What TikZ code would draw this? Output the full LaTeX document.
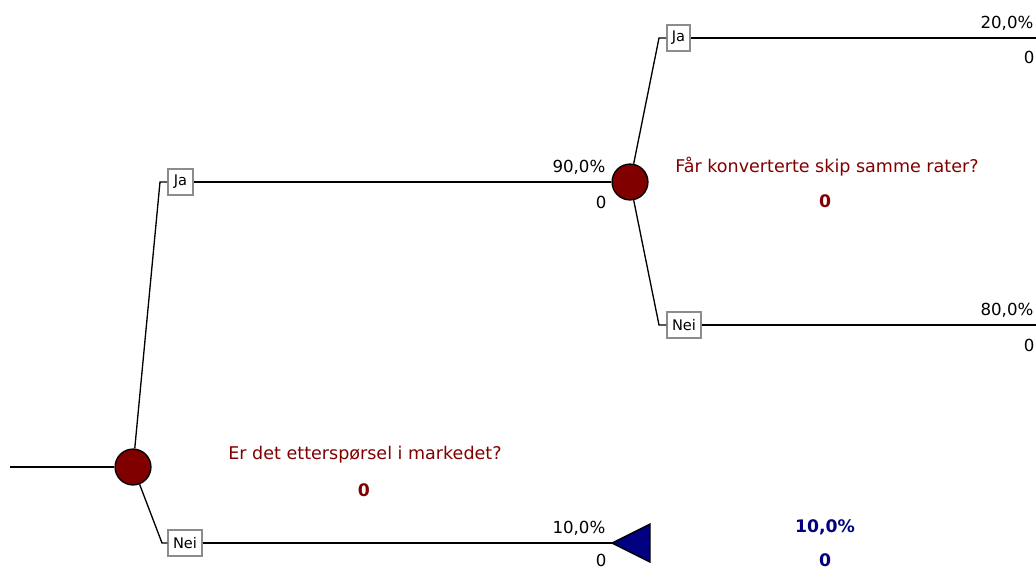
\documentclass[tikz,border=0pt]{standalone}
\usepackage{fontspec}
\setmainfont{DejaVu Sans}
\usepackage{tikz}

\definecolor{chancered}{RGB}{128,0,0}
\definecolor{endblue}{RGB}{0,0,128}

\tikzset{
  chance/.style={circle,draw=black,fill=chancered,minimum size=27pt,inner sep=0pt},
  branchbox/.style={draw=black!45,fill=white,inner sep=0pt,minimum height=19.5pt,font=\fontsize{11}{12}\selectfont},
  prob/.style={anchor=base east,inner sep=0pt,font=\fontsize{12.5}{14}\selectfont},
  question/.style={anchor=base,inner sep=0pt,text=chancered,font=\fontsize{13.2}{15}\selectfont},
  result/.style={anchor=base,inner sep=0pt,font=\bfseries\fontsize{13}{15}\selectfont},
}

\begin{document}
\begin{tikzpicture}[x=0.02646cm,y=-0.02646cm,line width=1pt]
  \useasboundingbox (0,0) rectangle (1036,570);
  % decision nodes
  \node[chance] (c1) at (133,467) {};
  \node[chance] (c2) at (630,182) {};
  \coordinate (start) at (10,467);
  \coordinate (t1) at (612,543);
  \filldraw[fill=endblue,draw=black] (t1) -- (650,524) -- (650,562) -- cycle;
  % branch labels
  \node[branchbox,minimum width=19pt] (ja1) at (180.5,182) {Ja};
  \node[branchbox,minimum width=25.5pt] (nei1) at (185,543) {Nei};
  \node[branchbox,minimum width=17.5pt] (ja2) at (678.5,38) {Ja};
  \node[branchbox,minimum width=25.5pt] (nei2) at (684,325) {Nei};
  \coordinate (k1) at (160,182);
  \coordinate (k2) at (162,543);
  \coordinate (k3) at (659,38);
  \coordinate (k4) at (659,325);
  \coordinate (e1) at (1036,38);
  \coordinate (e2) at (1036,325);
  % connectors
  \draw (start) -- (c1);
  \draw (c1) -- (k1) -- (ja1.west);
  \draw (c1) -- (k2) -- (nei1.west);
  \draw (ja1.east) -- (c2);
  \draw (nei1.east) -- (t1);
  \draw (c2) -- (k3) -- (ja2.west);
  \draw (c2) -- (k4) -- (nei2.west);
  \draw (ja2.east) -- (e1);
  \draw (nei2.east) -- (e2);
  % probabilities and values
  \node[prob] (p1) at (606,172) {90,0\%};
  \node[prob] (v1) at (607,208) {0};
  \node[prob] (p2) at (606,533) {10,0\%};
  \node[prob] (v2) at (607,566) {0};
  \node[prob] (p3) at (1034,28) {20,0\%};
  \node[prob] (v3) at (1035,63) {0};
  \node[prob] (p4) at (1034,315) {80,0\%};
  \node[prob] (v4) at (1035,351) {0};
  % questions
  \node[question] (q1) at (365,459) {Er det etterspørsel i markedet?};
  \node[result,text=chancered] (r1) at (364,496) {0};
  \node[question] (q2) at (827,172) {Får konverterte skip samme rater?};
  \node[result,text=chancered] (r2) at (825,207) {0};
  \node[result,text=endblue] (r3) at (825,532) {10,0\%};
  \node[result,text=endblue] (r4) at (825,566) {0};
\end{tikzpicture}
\end{document}
